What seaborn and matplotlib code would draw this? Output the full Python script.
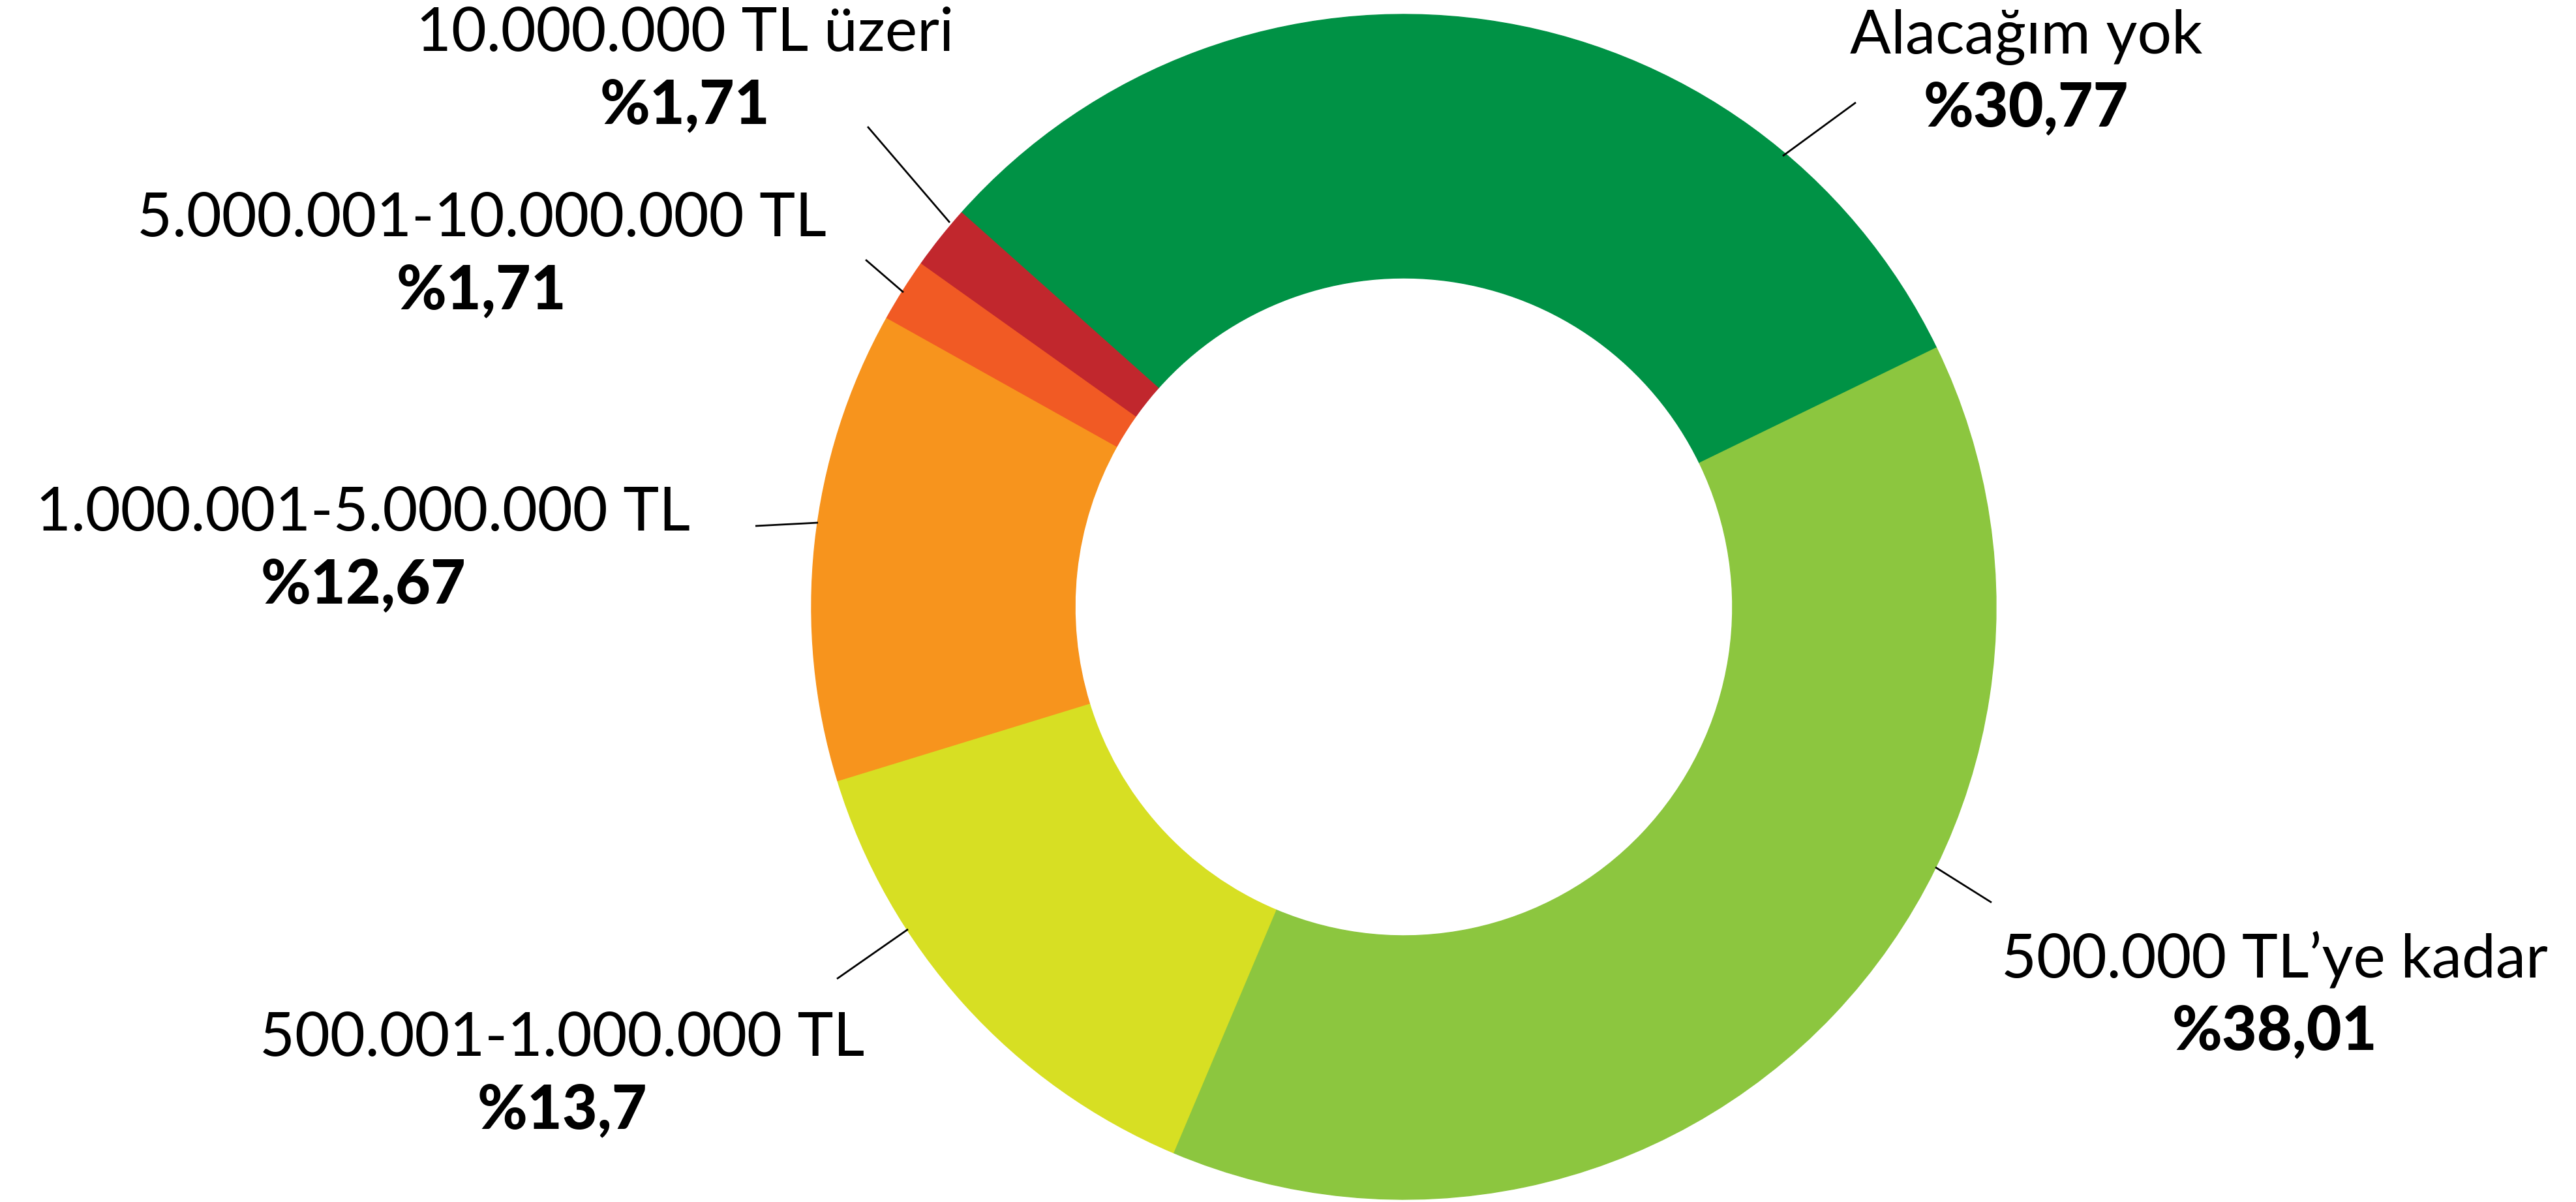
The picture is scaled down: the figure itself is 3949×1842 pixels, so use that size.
import matplotlib.pyplot as plt
import seaborn as sns

# 数据
labels = ["Alacağım yok", "500.000 TL’ye kadar", "500.001-1.000.000 TL",
          "1.000.001-5.000.000 TL", "5.000.001-10.000.000 TL", "10.000.000 TL üzeri"]
values = [30.77, 38.01, 13.7, 12.67, 1.71, 1.71]
pct_labels = ["%30,77", "%38,01", "%13,7", "%12,67", "%1,71", "%1,71"]
colors = ["#009245", "#8CC63F", "#D7DF23", "#F7941D", "#F15A24", "#C1272D"]

# 布局（像素坐标，原点左上）
W, H = 3949, 1842
cx, cy, R = 2152, 930, 908
text_x = [3106, 3487, 862, 557, 738, 1050]
text_base = [82, 1497, 1618, 813, 362, 78]
leaders = [((2845, 157), (2733, 239)),
           ((3053, 1383), (2967, 1329)),
           ((1283, 1500), (1392, 1424)),
           ((1158, 806), (1254, 801)),
           ((1327, 398), (1385, 448)),
           ((1330, 194), (1456, 341))]

sns.set_theme(style="white")
plt.rcParams['font.family'] = ['Lato', 'DejaVu Sans']

fig = plt.figure(figsize=(W / 100, H / 100), dpi=100)
ax = fig.add_axes([0, 0, 1, 1])

wedges, _ = ax.pie(values, colors=colors, startangle=138.3, counterclock=False,
                   radius=R, center=(cx, H - cy),
                   wedgeprops=dict(width=R * 0.445, linewidth=1))
for w in wedges:
    w.set_edgecolor(w.get_facecolor())

for i in range(len(labels)):
    ax.text(text_x[i], H - text_base[i], labels[i], ha='center', va='baseline',
            fontsize=67, color='black')
    ax.text(text_x[i], H - text_base[i] - 111, pct_labels[i], ha='center', va='baseline',
            fontsize=67, fontweight='black', color='black')
    (x1, y1), (x2, y2) = leaders[i]
    ax.plot([x1, x2], [H - y1, H - y2], color='black', lw=2, solid_capstyle='butt')

ax.set_xlim(0, W)
ax.set_ylim(0, H)
ax.set_aspect('equal')
ax.axis('off')

plt.savefig("out.png", dpi=100, facecolor='white')
